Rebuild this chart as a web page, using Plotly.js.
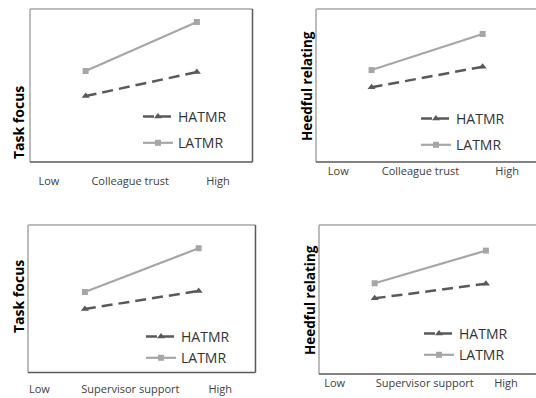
<!DOCTYPE html>
<html>
<head>
<meta charset="utf-8">
<script src="https://cdn.plot.ly/plotly-3.0.1.min.js"></script>
<style>html,body{margin:0;padding:0;background:#fff;}#chart{width:536px;height:398px;}</style>
</head>
<body>
<div id="chart"></div>
<script>
// ---- data ----
const xLevels = [0, 1];                       // Low, High
const seriesNames = ["HATMR", "LATMR"];
const panelYTitles = ["Task focus", "Heedful relating", "Task focus", "Heedful relating"];
const panelXTitles = ["Colleague trust", "Colleague trust", "Supervisor support", "Supervisor support"];
const levelLabels = ["Low", "High"];
// values (arbitrary 0-10 scale, no y ticks in original)
const hatmrP1 = [4.31, 5.88];
const latmrP1 = [5.95, 9.15];
const hatmrP2 = [4.88, 6.23];
const latmrP2 = [6.01, 8.37];
const hatmrP3 = [4.31, 5.53];
const latmrP3 = [5.46, 8.42];
const hatmrP4 = [5.08, 6.06];
const latmrP4 = [6.09, 8.28];

const W = 536, H = 398;
const FONT = "Open Sans, sans-serif";
const darkCol = "#595959", lightCol = "#a6a6a6";

// panel geometry in pixels
const panels = [
  {x0: 30,  x1: 252.5, y0: 9,   y1: 162,   xr: [-0.5, 1.5],  tick: [-0.33, 0.40, 1.19], stand: 11, h: hatmrP1, l: latmrP1, yt: [18, 123],  ts: 14,   leg: [138, 101], gap: 5},
  {x0: 316, x1: 536,   y0: 9,   y1: 162,   xr: [-0.5, 1.48], tick: [-0.30, 0.44, 1.22], stand: 1,  h: hatmrP2, l: latmrP2, yt: [307, 86],  ts: 13.5, leg: [416, 103], gap: 5},
  {x0: 28,  x1: 255.5, y0: 225, y1: 372.5, xr: [-0.5, 1.5],  tick: [-0.40, 0.40, 1.19], stand: 8,  h: hatmrP3, l: latmrP3, yt: [18, 297],  ts: 14,   leg: [141, 321], gap: 0},
  {x0: 319, x1: 536,   y0: 225, y1: 374,   xr: [-0.5, 1.45], tick: [-0.36, 0.45, 1.18], stand: 1,  h: hatmrP4, l: latmrP4, yt: [310, 300], ts: 13.5, leg: [419, 318], gap: 0}
];

const traces = [];
const layout = {
  width: W, height: H, margin: {l: 0, r: 0, t: 0, b: 0},
  paper_bgcolor: "#fff", plot_bgcolor: "#fff",
  font: {family: FONT, color: "#404040"},
  shapes: [], annotations: []
};

panels.forEach((p, i) => {
  const n = i === 0 ? "" : String(i + 1);
  const xa = "x" + n, ya = "y" + n;
  const legName = i === 0 ? "legend" : "legend" + (i + 1);
  traces.push({
    x: xLevels, y: p.h, name: seriesNames[0], xaxis: xa, yaxis: ya, legend: legName,
    legendgroup: "h" + i,
    mode: "lines+markers", type: "scatter",
    line: {color: darkCol, width: 2.5, dash: "11px,6px"},
    marker: {symbol: "triangle-up", size: 7, color: darkCol}
  });
  traces.push({
    x: xLevels, y: p.l, name: seriesNames[1], xaxis: xa, yaxis: ya, legend: legName,
    legendgroup: "l" + i,
    mode: "lines+markers", type: "scatter",
    line: {color: lightCol, width: 2.2},
    marker: {symbol: "square", size: 6, color: lightCol}
  });
  layout["xaxis" + n] = {
    domain: [p.x0 / W, p.x1 / W], anchor: ya, range: p.xr, fixedrange: true,
    showgrid: false, zeroline: false, showline: false,
    tickvals: p.tick, ticktext: [levelLabels[0], panelXTitles[i], levelLabels[1]],
    ticks: "", ticklabelstandoff: p.stand,
    tickfont: {family: FONT, size: 11, color: "#404040"}
  };
  layout["yaxis" + n] = {
    domain: [1 - p.y1 / H, 1 - p.y0 / H], anchor: xa, range: [0, 10], fixedrange: true,
    showgrid: false, zeroline: false, showline: false, showticklabels: false, ticks: ""
  };
  layout[legName] = {
    x: p.leg[0] / W, y: 1 - p.leg[1] / H, xanchor: "left", yanchor: "top",
    bgcolor: "rgba(0,0,0,0)", borderwidth: 0, tracegroupgap: p.gap, traceorder: "grouped",
    font: {family: FONT, size: 14, color: "#333"}
  };
  // frame lines
  const xr = xa + " domain", yr = ya + " domain";
  const light = "#a6a6a6", dark = "#595959";
  layout.shapes.push({type: "line", xref: xr, yref: yr, x0: 0, x1: 1, y0: 1, y1: 1, line: {color: light, width: 1.5}});
  layout.shapes.push({type: "line", xref: xr, yref: yr, x0: 0, x1: 0, y0: 0, y1: 1, line: {color: light, width: 1.5}});
  layout.shapes.push({type: "line", xref: xr, yref: yr, x0: 0, x1: 1, y0: 0, y1: 0, line: {color: dark, width: 1.5}});
  if (i % 2 === 0) {
    layout.shapes.push({type: "line", xref: xr, yref: yr, x0: 1, x1: 1, y0: 0, y1: 1, line: {color: dark, width: 1.5}});
  }
  layout.annotations.push({
    xref: "paper", yref: "paper", x: p.yt[0] / W, y: 1 - p.yt[1] / H,
    xanchor: "center", yanchor: "middle", showarrow: false, textangle: -90,
    text: "<b>" + panelYTitles[i] + "</b>",
    font: {family: FONT, size: p.ts, color: "#000"}
  });
});

Plotly.newPlot("chart", traces, layout, {displayModeBar: false, staticPlot: true});
</script>
</body>
</html>
